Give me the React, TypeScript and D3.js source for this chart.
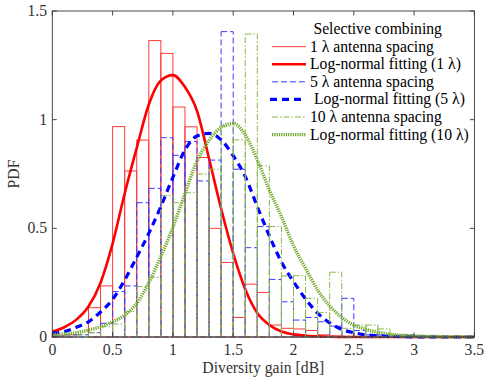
import React from "react";
import * as d3 from "d3";

// ---------- data ----------
const binStarts = [0, 0.1, 0.2, 0.3, 0.4, 0.5, 0.6, 0.7, 0.8, 0.9, 1.0, 1.1, 1.2, 1.3, 1.4, 1.5, 1.6, 1.7, 1.8, 1.9, 2.0, 2.1, 2.2, 2.3, 2.4, 2.5, 2.6, 2.7, 2.8, 2.9, 3.0, 3.1, 3.2, 3.3, 3.4];
const binWidth = 0.1;

const hist1 = [0.005, 0.01, 0.0, 0.135, 0.235, 0.968, 0.764, 0.906, 1.364, 1.305, 1.058, 0.967, 0.826, 0.5, 0.343, 0.09, 0.243, 0.205, 0.055, 0.04, 0.037, 0.03, 0.01, 0.005, 0.003, 0, 0, 0, 0, 0, 0, 0, 0, 0, 0];
const hist5 = [0.005, 0.01, 0.01, 0.02, 0.063, 0.209, 0.235, 0.618, 0.684, 0.917, 0.836, 0.9, 0.718, 0.814, 1.405, 0.772, 0.411, 0.508, 0.265, 0.162, 0.078, 0.09, 0.07, 0.05, 0.178, 0.03, 0.01, 0.01, 0.005, 0.01, 0.005, 0.003, 0, 0, 0];
const hist10 = [0.005, 0.01, 0.01, 0.02, 0.047, 0.06, 0.117, 0.232, 0.275, 0.651, 0.618, 0.664, 0.75, 0.772, 0.97, 0.907, 1.394, 0.788, 0.508, 0.281, 0.282, 0.178, 0.112, 0.298, 0.04, 0.055, 0.055, 0.037, 0.01, 0.01, 0.005, 0.005, 0.003, 0, 0];

const fitX = [0, 0.1, 0.2, 0.3, 0.4, 0.5, 0.6, 0.7, 0.8, 0.9, 1.0, 1.1, 1.2, 1.3, 1.4, 1.5, 1.6, 1.7, 1.8, 1.9, 2.0, 2.1, 2.2, 2.3, 2.4, 2.5, 2.6, 2.7, 2.8, 2.9, 3.0, 3.1, 3.2, 3.3, 3.4, 3.5];
const fit1 = [0.024, 0.045, 0.08, 0.14, 0.25, 0.43, 0.66, 0.87, 1.07, 1.18, 1.205, 1.15, 1.04, 0.82, 0.59, 0.385, 0.22, 0.11, 0.055, 0.025, 0.012, 0.006, 0.003, 0.001, 0, 0, 0, 0, 0, 0, 0, 0, 0, 0, 0, 0];
const fit5 = [0.017, 0.025, 0.045, 0.07, 0.115, 0.173, 0.262, 0.367, 0.477, 0.6, 0.735, 0.86, 0.925, 0.937, 0.907, 0.834, 0.738, 0.6, 0.465, 0.345, 0.255, 0.175, 0.11, 0.065, 0.035, 0.02, 0.01, 0.006, 0.003, 0.002, 0.001, 0.001, 0, 0, 0, 0];
const fit10 = [0.012, 0.014, 0.02, 0.032, 0.047, 0.07, 0.1, 0.155, 0.25, 0.37, 0.505, 0.66, 0.81, 0.905, 0.965, 0.983, 0.93, 0.815, 0.676, 0.554, 0.42, 0.316, 0.216, 0.143, 0.09, 0.055, 0.035, 0.022, 0.013, 0.008, 0.005, 0.003, 0.002, 0.001, 0.001, 0];

const xTicks = [0, 0.5, 1, 1.5, 2, 2.5, 3, 3.5];
const yTicks = [0, 0.5, 1, 1.5];
const legendTitle = "Selective combining";
const legendLabels = [
  "1 λ antenna spacing",
  "Log-normal fitting (1 λ)",
  "5 λ antenna spacing",
  " Log-normal fitting (5 λ)",
  "10 λ antenna spacing",
  "Log-normal fitting (10 λ)",
];

// ---------- styles ----------
const W = 485, H = 383;
const M = { left: 52.3, right: 474.4, top: 11, bottom: 337 };
const AX = "#333333";
const FONT = "'Liberation Serif', 'Times New Roman', serif";
const FS = 15.7;
const RED = "#ff0000";
const BLUE = "#0000ff";
const GREEN = "#77ac30";

const histStyles = [
  { stroke: "#ff3a3a", width: 1, dash: "none" },
  { stroke: "#3a3aff", width: 1, dash: "6,3" },
  { stroke: "#86b84a", width: 1, dash: "6,2,1.5,2" },
];
const fitStyles = [
  { stroke: RED, width: 2.6, dash: "none" },
  { stroke: BLUE, width: 3.2, dash: "7,5" },
  { stroke: GREEN, width: 3.4, dash: "1.3,1" },
];

export default function App() {
  const x = d3.scaleLinear().domain([0, 3.5]).range([M.left, M.right]);
  const y = d3.scaleLinear().domain([0, 1.5]).range([M.bottom, M.top]);
  const line = d3
    .line<number>()
    .x((_, i) => x(fitX[i]))
    .y((d) => y(d))
    .curve(d3.curveMonotoneX);

  const hists = [hist1, hist5, hist10];
  const fits = [fit1, fit5, fit10];

  const tickLen = 4.5;
  const legX0 = 272, legX1 = 306, legTextX = 310;
  const legRowY = [46.7, 64.3, 81.8, 99.3, 117, 134.6];

  return (
    <svg width={W} height={H} style={{ position: "absolute", left: 0, top: 0, background: "#fff" }} fontFamily={FONT}>
      <rect x={0} y={0} width={W} height={H} fill="#fff" />
      {/* data */}
      {[0, 1, 2].map((s) => (
        <g key={s}>
          <g fill="none" stroke={histStyles[s].stroke} strokeWidth={histStyles[s].width} strokeDasharray={histStyles[s].dash}>
            {binStarts.map((b, i) => (
              <rect key={i} x={x(b)} y={y(hists[s][i])} width={x(b + binWidth) - x(b)} height={y(0) - y(hists[s][i])} />
            ))}
          </g>
          <path d={line(fits[s]) || ""} fill="none" stroke={fitStyles[s].stroke} strokeWidth={fitStyles[s].width} strokeDasharray={fitStyles[s].dash} />
        </g>
      ))}
      {/* axes box */}
      <rect x={M.left} y={M.top} width={M.right - M.left} height={M.bottom - M.top} fill="none" stroke={AX} strokeWidth={0.9} />
      {xTicks.map((t) => (
        <g key={"x" + t}>
          <line x1={x(t)} x2={x(t)} y1={M.bottom} y2={M.bottom - tickLen} stroke={AX} strokeWidth={0.9} />
          <line x1={x(t)} x2={x(t)} y1={M.top} y2={M.top + tickLen} stroke={AX} strokeWidth={0.9} />
          <text x={x(t)} y={355} textAnchor="middle" fontSize={FS} fill={AX}>{t}</text>
        </g>
      ))}
      {yTicks.map((t) => (
        <g key={"y" + t}>
          <line x1={M.left} x2={M.left + tickLen} y1={y(t)} y2={y(t)} stroke={AX} strokeWidth={0.9} />
          <line x1={M.right} x2={M.right - tickLen} y1={y(t)} y2={y(t)} stroke={AX} strokeWidth={0.9} />
          <text x={47} y={y(t) + 5} textAnchor="end" fontSize={FS} fill={AX}>{t}</text>
        </g>
      ))}
      <text x={(M.left + M.right) / 2} y={373} textAnchor="middle" fontSize={FS} fill={AX}>Diversity gain [dB]</text>
      <text transform={`translate(19,${(M.top + M.bottom) / 2}) rotate(-90)`} textAnchor="middle" fontSize={FS} fill={AX}>PDF</text>
      {/* legend */}
      <text x={377.7} y={33.5} textAnchor="middle" fontSize={FS} fill="#000">{legendTitle}</text>
      {legendLabels.map((lab, i) => {
        const st = i % 2 === 0 ? histStyles[i / 2] : fitStyles[(i - 1) / 2];
        return (
          <g key={i}>
            <line x1={i === 3 ? 270 : legX0} x2={legX1} y1={legRowY[i]} y2={legRowY[i]} stroke={st.stroke} strokeWidth={st.width} strokeDasharray={st.dash} />
            <text x={legTextX} y={legRowY[i] + 5} fontSize={FS} fill="#000" style={{ whiteSpace: "pre" }}>{lab}</text>
          </g>
        );
      })}
    </svg>
  );
}
